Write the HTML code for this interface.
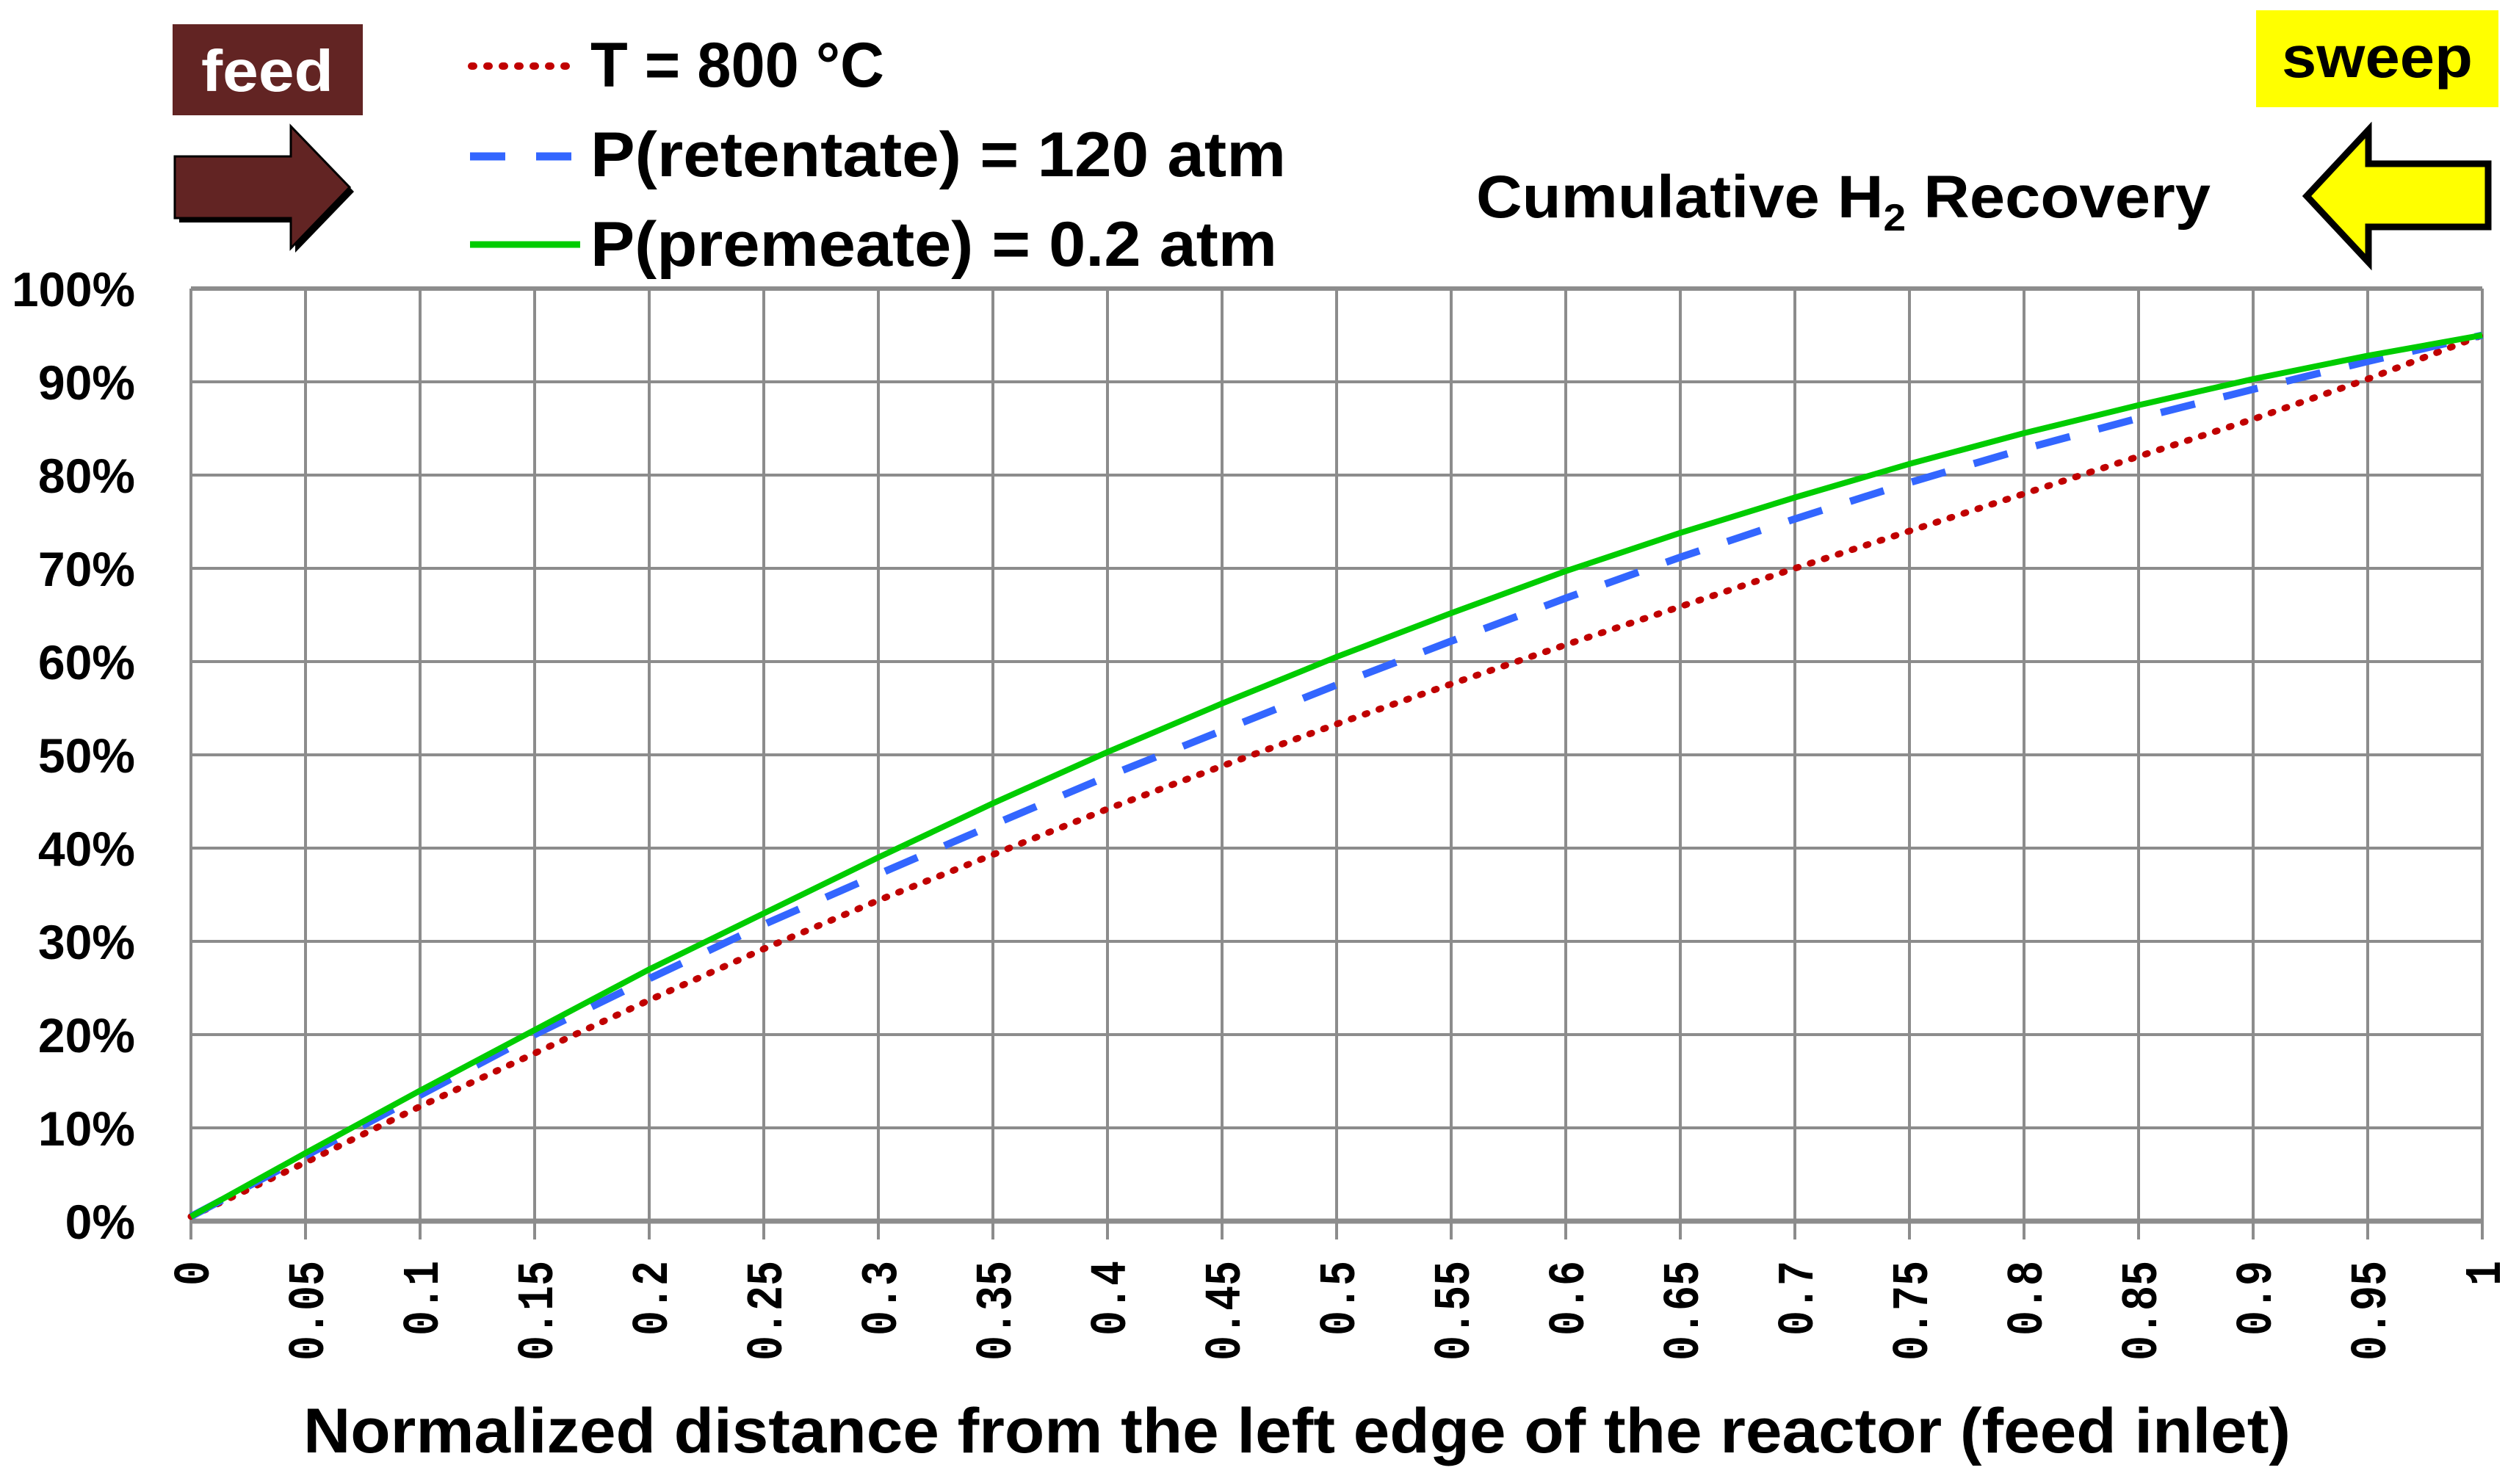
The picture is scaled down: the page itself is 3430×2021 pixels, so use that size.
<!DOCTYPE html>
<html><head><meta charset="utf-8">
<style>
html,body{margin:0;padding:0;background:#fff;}
svg{display:block;}
text{font-family:"Liberation Sans",sans-serif;font-weight:bold;fill:#000;}
</style></head>
<body>
<svg id="chart" width="3430" height="2021" viewBox="0 0 3430 2021" xmlns="http://www.w3.org/2000/svg">
  <g id="grid"></g>
  <g id="series"></g>
  <g id="yticks"></g>
  <g id="xticks"></g>

  <g>
    <rect x="235" y="33" width="259" height="124" fill="#622423"/>
    <text x="364" y="124" font-size="80" text-anchor="middle" style="fill:#fff" textLength="180" lengthAdjust="spacingAndGlyphs">feed</text>
    <polygon points="244,219 402,219 402,178 482,261 402,344 402,303 244,303" fill="#000"/>
    <polygon points="238,213 396,213 396,172 476,255 396,338 396,297 238,297" fill="#622423" stroke="#000" stroke-width="3"/>
  </g>

  <g>
    <rect x="3072" y="14" width="330" height="132" fill="#ffff00"/>
    <text x="3237" y="105" font-size="80" text-anchor="middle" textLength="260" lengthAdjust="spacingAndGlyphs">sweep</text>
    <polygon points="3388,223 3225,223 3225,177 3141,267 3225,357 3225,309 3388,309" fill="#ffff00" stroke="#000" stroke-width="9"/>
  </g>

  <text x="2010" y="296" font-size="82" textLength="1000" lengthAdjust="spacingAndGlyphs">Cumulative H<tspan font-size="52" dy="18">2</tspan><tspan dy="-18"> Recovery</tspan></text>

  <g>
    <g>
      <line x1="642" y1="90" x2="780" y2="90" stroke="#c00000" stroke-width="10" stroke-linecap="round" stroke-dasharray="3 18"/>
      <text x="804" y="118" font-size="86" textLength="400" lengthAdjust="spacingAndGlyphs">T = 800 °C</text>
    </g>
    <g>
      <line x1="640" y1="213" x2="780" y2="213" stroke="#3366ff" stroke-width="11" stroke-dasharray="48 42"/>
      <text x="804" y="240" font-size="86" textLength="947" lengthAdjust="spacingAndGlyphs">P(retentate) = 120 atm</text>
    </g>
    <g>
      <line x1="640" y1="333" x2="790" y2="333" stroke="#00cc00" stroke-width="9"/>
      <text x="804" y="362" font-size="86" textLength="935" lengthAdjust="spacingAndGlyphs">P(premeate) = 0.2 atm</text>
    </g>
  </g>

  <text x="1766" y="1978" font-size="86" text-anchor="middle" textLength="2706" lengthAdjust="spacingAndGlyphs">Normalized distance from the left edge of the reactor (feed inlet)</text>
</svg>
<script>
const xValues = [0,0.05,0.1,0.15,0.2,0.25,0.3,0.35,0.4,0.45,0.5,0.55,0.6,0.65,0.7,0.75,0.8,0.85,0.9,0.95,1];
const tempSeries = [0.5,6.3,12.3,18,23.7,29.2,34.4,39.3,44.2,48.8,53.3,57.6,61.8,65.9,70,74,78,82,86,90.3,95];
const retentateSeries = [0.5,7,13.5,20,26,31.8,37.2,42.5,47.7,52.6,57.5,62.2,66.8,71.2,75.3,79.2,82.8,86.1,89.2,92.2,95];
const permeateSeries = [0.5,7.3,14,20.5,27,33,39,44.8,50.3,55.5,60.5,65.2,69.7,73.8,77.6,81.2,84.5,87.5,90.3,92.8,95];
const yTickValues = [0,10,20,30,40,50,60,70,80,90,100];
const yTickLabels = ["0%","10%","20%","30%","40%","50%","60%","70%","80%","90%","100%"];
const xTickLabels = ["0","0.05","0.1","0.15","0.2","0.25","0.3","0.35","0.4","0.45","0.5","0.55","0.6","0.65","0.7","0.75","0.8","0.85","0.9","0.95","1"];

const NS = "http://www.w3.org/2000/svg";
const X0 = 260, X1 = 3380, Y0 = 1663, Y1 = 393;
function sx(v){ return X0 + v*(X1-X0); }
function sy(v){ return Y0 - v/100*(Y0-Y1); }
function mk(tag, attrs, parent){
  const el = document.createElementNS(NS, tag);
  for (const k in attrs) el.setAttribute(k, attrs[k]);
  parent.appendChild(el);
  return el;
}
const grid = document.getElementById('grid');
yTickValues.forEach((v,i)=>{
  const w = (v===0) ? 7 : (v===100 ? 6 : 4);
  const l = mk('line',{x1:X0,x2:X1,y1:sy(v),y2:sy(v),stroke:'#8c8c8c','stroke-width':w},grid);
  
  
});
xTickLabels.forEach((t,i)=>{
  const v = xValues[i];
  const l = mk('line',{x1:sx(v),x2:sx(v),y1:Y1,y2:Y0+25,stroke:'#8c8c8c','stroke-width':4},grid);
  
  
});
const yt = document.getElementById('yticks');
yTickValues.forEach((v,i)=>{
  const t = mk('text',{x:184,y:sy(v)+24,'font-size':66,'text-anchor':'end'},yt);
  if (yTickLabels[i].length===4){ t.setAttribute('textLength','168'); t.setAttribute('lengthAdjust','spacingAndGlyphs'); }
  t.textContent = yTickLabels[i];
  
  
});
const xt = document.getElementById('xticks');
xTickLabels.forEach((lab,i)=>{
  const x = sx(xValues[i]) + 24;
  const t = mk('text',{x:x,y:1717,'font-size':70,'text-anchor':'end',transform:'rotate(-90 '+x+' 1717)',textLength:String(lab.length*34),lengthAdjust:'spacingAndGlyphs',style:'font-family:"Liberation Mono",monospace;font-weight:bold'},xt);
  t.textContent = lab;
  
  
});
const sg = document.getElementById('series');
function pts(arr){ return arr.map((v,i)=>sx(xValues[i]).toFixed(1)+','+sy(v).toFixed(1)).join(' '); }
const p1 = mk('polyline',{points:pts(tempSeries),fill:'none',stroke:'#c00000','stroke-width':9,'stroke-linecap':'round','stroke-dasharray':'3 17'},sg);


const p2 = mk('polyline',{points:pts(retentateSeries),fill:'none',stroke:'#3366ff','stroke-width':10,'stroke-dasharray':'48 40'},sg);


const p3 = mk('polyline',{points:pts(permeateSeries),fill:'none',stroke:'#00cc00','stroke-width':8,'stroke-linejoin':'round'},sg);


</script>
</body></html>
